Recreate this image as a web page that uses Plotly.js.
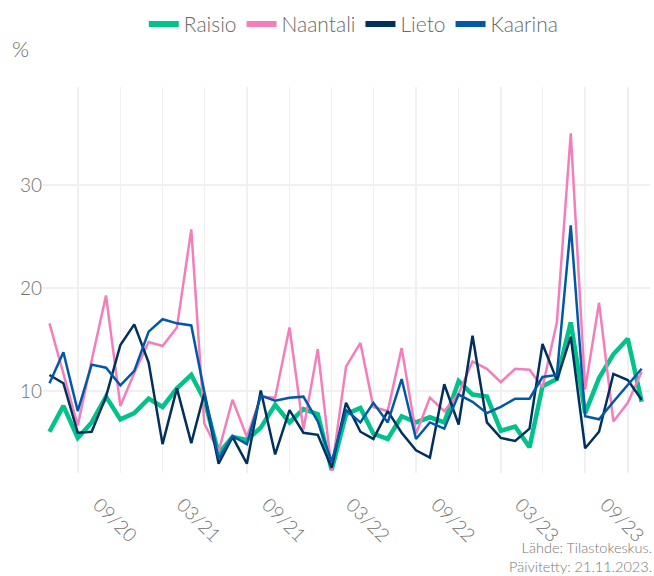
<!DOCTYPE html>
<html>
<head>
<meta charset="utf-8">
<script src="https://cdn.plot.ly/plotly-3.0.1.min.js"></script>
<style>html,body{margin:0;padding:0;background:#fff}#chart{width:654px;height:576px}</style>
</head>
<body>
<div id="chart"></div>
<script>
// Monthly values, 2020-04 .. 2023-10 (%)
const startMonth = "2020-04";
const raisio   = [6.1,8.6,5.5,7.0,9.5,7.3,7.9,9.3,8.5,10.3,11.6,9.2,4.0,5.6,5.3,6.5,8.7,7.0,8.3,7.8,2.4,7.8,8.4,5.9,5.4,7.6,7.0,7.5,7.0,11.0,9.7,9.5,6.2,6.6,4.6,10.5,11.2,16.7,7.9,11.3,13.6,15.1,9.0];
const naantali = [16.6,11.6,6.7,13.0,19.3,8.6,11.8,14.8,14.4,16.2,25.7,6.9,4.2,9.2,5.6,9.5,9.4,16.2,6.3,14.1,2.3,12.4,14.7,8.5,8.1,14.2,5.9,9.4,8.1,9.8,12.9,12.2,10.9,12.2,12.1,10.4,16.7,35.0,10.2,18.6,7.1,8.9,11.9];
const lieto    = [11.6,10.8,6.0,6.1,9.5,14.5,16.5,12.8,4.9,10.3,5.0,9.8,3.0,5.6,3.0,10.1,3.9,8.2,6.0,5.8,2.6,8.9,6.1,5.4,8.1,6.0,4.3,3.6,10.7,6.8,15.4,7.0,5.5,5.2,6.4,14.6,11.1,15.3,4.5,6.1,11.7,11.1,9.2];
const kaarina  = [10.8,13.8,8.1,12.6,12.3,10.6,12.0,15.8,17.0,16.6,16.4,10.0,3.5,5.7,4.9,9.6,9.1,9.4,9.5,7.1,3.2,8.2,7.0,8.9,7.0,11.2,5.4,7.0,6.4,9.7,9.0,7.9,8.5,9.3,9.3,11.4,11.6,26.1,7.6,7.3,9.0,10.6,12.2];
const seriesNames = ["Raisio","Naantali","Lieto","Kaarina"];
const tickVals = ["2020-09-01","2021-03-01","2021-09-01","2022-03-01","2022-09-01","2023-03-01","2023-09-01"];
const tickText = ["09/20","03/21","09/21","03/22","09/22","03/23","09/23"];
const yTicks = [10,20,30];

function months(n){
  const out=[]; let [y,m]=startMonth.split("-").map(Number);
  for(let i=0;i<n;i++){ out.push(y+"-"+String(m).padStart(2,"0")+"-01"); m++; if(m>12){m=1;y++;} }
  return out;
}
const x = months(raisio.length);
const colors = ["#00C28A","#F47EBA","#00305E","#0058A6"];
const widths = [4.5,2.5,2.5,2.5];
const data = [raisio,naantali,lieto,kaarina];

const traces = [];
data.forEach((vals,k)=>{
  traces.push({x:x,y:vals,type:"scatter",mode:"lines",name:seriesNames[k],
    line:{color:colors[k],width:widths[k]},showlegend:false,legendgroup:seriesNames[k],hoverinfo:"x+y+name"});
});
data.forEach((vals,k)=>{
  traces.push({x:[null],y:[null],type:"scatter",mode:"lines",name:seriesNames[k],
    line:{color:colors[k],width:6},showlegend:true,legendgroup:seriesNames[k]});
});

const font = {family:"Lato, 'Open Sans', sans-serif", color:"#707070", weight:300};
const layout = {
  width:654,height:576,
  margin:{l:43,r:4,t:80,b:103},
  paper_bgcolor:"#fff",plot_bgcolor:"#fff",
  font:font,
  showlegend:true,
  legend:{orientation:"h",x:0.512,xanchor:"center",y:1.162,yanchor:"middle",
    font:{family:font.family,size:21,color:"#6a6a6a",weight:300},itemwidth:30,tracegroupgap:0},
  xaxis:{type:"date",range:["2020-03-18","2023-10-19"],
    tickvals:tickVals,ticktext:tickText,tickangle:45,
    tickfont:{family:font.family,size:19,color:"#707070",weight:300},
    showgrid:true,gridcolor:"#f0f0f0",gridwidth:1.5,
    minor:{dtick:"M3",tick0:"2020-09-01",showgrid:true,gridcolor:"#f0f0f0",gridwidth:1.5},
    zeroline:false,showline:false,ticks:"",ticklabelshift:-22,ticklabelstandoff:16,fixedrange:true},
  yaxis:{range:[2.1,39.5],tickvals:yTicks,ticktext:yTicks.map(String),
    tickfont:{family:font.family,size:19,color:"#707070",weight:300},
    showgrid:true,gridcolor:"#f0f0f0",gridwidth:2,zeroline:false,showline:false,ticks:"",fixedrange:true},
  annotations:[
    {text:"%",xref:"paper",yref:"paper",x:-0.055,y:1.1,xanchor:"left",yanchor:"middle",showarrow:false,
      font:{family:font.family,size:22,color:"#6a6a6a",weight:300}},
    {text:"Lähde: Tilastokeskus.<br>Päivitetty: 21.11.2023.",xref:"paper",yref:"paper",x:1.0066,y:-0.167,
      xanchor:"right",yanchor:"top",align:"right",showarrow:false,
      font:{family:font.family,size:14.5,color:"#777",weight:300}}
  ]
};
Plotly.newPlot("chart",traces,layout,{displayModeBar:false,staticPlot:true});
</script>
</body>
</html>
